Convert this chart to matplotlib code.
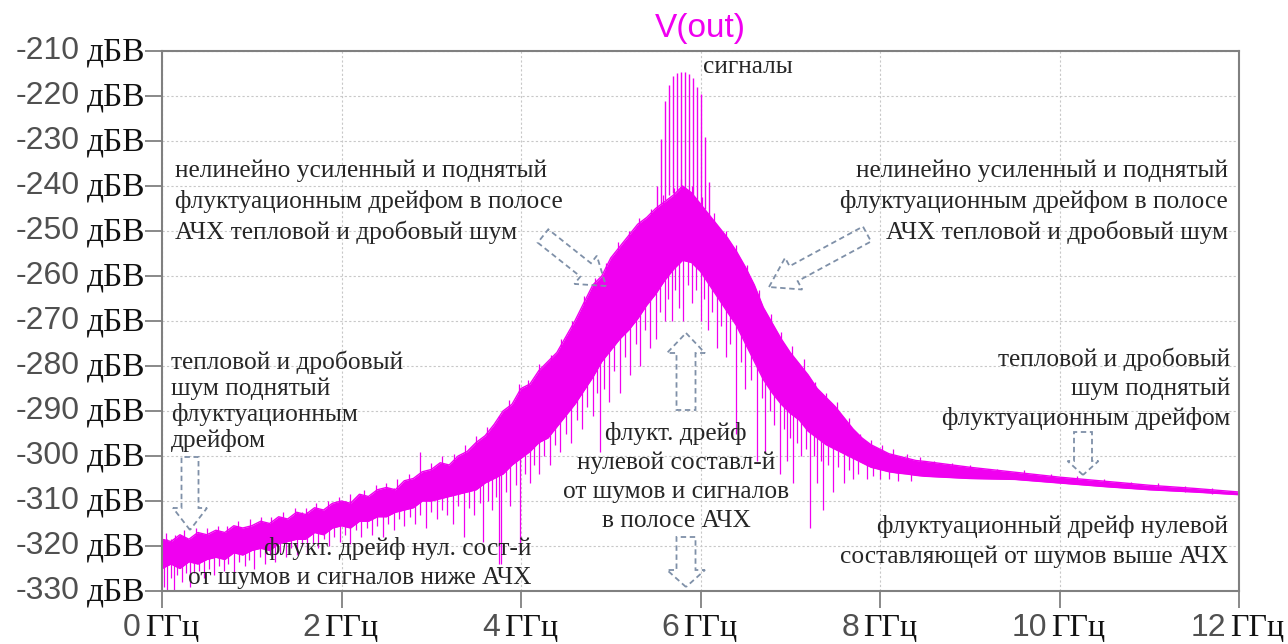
import matplotlib
matplotlib.use('Agg')
import matplotlib.pyplot as plt
from matplotlib.patches import FancyArrow
from matplotlib.transforms import IdentityTransform

# ---------------------------------------------
# spectrum V(out), values
# ---------------------------------------------

# dense noise band: upper / lower edge (dBV) vs frequency (GHz)
env_freq = [0.0, 0.1, 0.2, 0.3, 0.4, 0.5, 0.6, 0.7, 0.8, 0.9,
            1.0, 1.1, 1.2, 1.3, 1.4, 1.5, 1.6, 1.7, 1.8, 1.9,
            2.0, 2.1, 2.2, 2.3, 2.4, 2.5, 2.6, 2.7, 2.8, 2.9,
            3.0, 3.1, 3.2, 3.3, 3.4, 3.5, 3.6, 3.7, 3.8, 3.9,
            4.0, 4.1, 4.2, 4.3, 4.4, 4.5, 4.6, 4.7, 4.8, 4.9,
            5.0, 5.1, 5.2, 5.3, 5.4, 5.5, 5.6, 5.7, 5.8, 5.9,
            6.0, 6.1, 6.2, 6.3, 6.4, 6.5, 6.6, 6.7, 6.8, 6.9,
            7.0, 7.1, 7.2, 7.3, 7.4, 7.5, 7.6, 7.7, 7.8, 7.9,
            8.0, 8.1, 8.2, 8.3, 8.4, 8.5, 9.0, 9.5, 10.0, 10.5, 11.0, 11.5, 12.0]
env_upper = [-318.5, -319, -317.5, -318.5, -317, -317.5, -316.5, -317, -315.5, -316,
             -315.5, -314.5, -315, -313.5, -314, -312.5, -313, -311.5, -312, -310.5,
             -310, -310.5, -308.5, -309, -307.5, -307, -307.5, -305.5, -305, -303.5,
             -303, -301.5, -302, -300, -299, -297, -295.5, -293, -290, -288.5,
             -285, -284, -281, -279, -277, -273.5, -270, -266, -262, -260,
             -256, -253.5, -251, -248.5, -247, -245, -243.5, -242, -240, -241.5,
             -244, -246.5, -249, -251.5, -254.5, -258, -262, -267, -270.5, -274,
             -277, -279.5, -282, -285, -287, -289, -291.5, -294, -296, -297.5,
             -298.5, -299.5, -300, -300.5, -301, -301.2, -302.5, -303.6, -304.7, -305.6, -306.5, -307.2, -308]
env_lower = [-325, -324, -325, -323.5, -324, -323, -322.5, -323, -321.5, -322,
             -321, -320.5, -321, -319.5, -319, -318.5, -318.5, -317, -317.5, -316,
             -315.5, -316, -314.5, -314.5, -313.5, -313.5, -312.5, -312, -311.5, -310,
             -310, -309.5, -309, -308.5, -308, -307.5, -306, -305, -304, -302,
             -300.5, -299, -297, -296, -293.5, -291, -288.5, -285.5, -282.5, -279,
             -276.5, -274, -272, -269.5, -266.5, -264, -261, -258.5, -256.5, -257,
             -259, -262, -265, -268, -271, -275, -279, -283, -286, -288.5,
             -290.5, -292, -294.5, -296, -297.5, -298.5, -299.5, -300.5, -301.5, -302.5,
             -303, -303.5, -303.8, -304, -304.3, -304.5, -305, -305.2, -306, -306.8, -307.5, -308, -308.6]

# downward spikes below the band: frequency, lowest point, point inside the band
dip_freq = [0.02, 0.06, 0.1, 0.13, 0.17, 0.22, 0.27, 0.31, 0.36, 0.41, 0.47,
            0.52, 0.58, 0.63, 0.69, 0.74, 0.8, 0.86, 0.92, 0.97,
            1.03, 1.09, 1.15, 1.2, 1.26, 1.32, 1.38, 1.44,
            1.5, 1.56, 1.62, 1.68, 1.74, 1.8, 1.86, 1.92, 1.98,
            2.04, 2.1, 2.16, 2.22, 2.28, 2.34, 2.4, 2.46,
            2.52, 2.58, 2.64, 2.7, 2.76, 2.82, 2.88, 2.94,
            3.0, 3.06, 3.12, 3.18, 3.24, 3.3, 3.36, 3.42, 3.48,
            3.54, 3.58, 3.63, 3.68, 3.72, 3.75, 3.78, 3.83, 3.88, 3.94, 3.99,
            4.05, 4.1, 4.15, 4.2, 4.26, 4.32, 4.38, 4.44,
            4.5, 4.56, 4.62, 4.68, 4.74, 4.8, 4.85, 4.88, 4.93, 4.98,
            5.04, 5.1, 5.16, 5.22, 5.28, 5.33, 5.38, 5.44,
            5.5, 5.55, 5.6, 5.64, 5.68, 5.72, 5.76,
            5.81, 5.86, 5.9, 5.95,
            6.0, 6.04, 6.08, 6.13, 6.18, 6.23, 6.28, 6.33, 6.4, 6.45,
            6.5, 6.56, 6.63, 6.68, 6.72,
            6.77, 6.82, 6.89, 6.93, 6.96,
            7.0, 7.03, 7.07, 7.12, 7.17, 7.22, 7.26, 7.3, 7.34, 7.37, 7.42, 7.48,
            7.53, 7.6, 7.66, 7.7, 7.76, 7.85, 7.92,
            8.0, 8.1, 8.2, 8.35]
dip_low = [-329, -330, -327, -330, -326.5, -328, -326, -329, -326, -325.5, -327,
           -325, -326.5, -324.5, -325.5, -324, -326, -323.5, -324.5, -323,
           -325, -322.5, -324, -322, -323.5, -321.5, -322.5, -320.5,
           -322, -320, -321.5, -319.5, -320.5, -318.5, -320, -318, -319,
           -317.5, -319.5, -316.5, -318, -316, -317.5, -315.5, -318,
           -315, -316.5, -314, -315.5, -313.5, -315, -313, -316,
           -312.5, -314, -312, -313, -315, -311, -318, -311.5, -313,
           -310.5, -319, -310, -312, -309, -324, -324, -308, -311, -306.5, -321,
           -304, -306, -302, -304, -300, -302, -297.5, -299,
           -295, -297, -292, -294, -289, -291, -286, -299, -285, -288,
           -281, -286, -278, -282, -275, -280, -272, -276,
           -274, -268, -270, -265, -270, -263, -267,
           -270, -262, -266, -263,
           -270, -265, -272, -268, -276, -271, -278, -275, -295, -279,
           -285, -283, -301, -287, -299,
           -290, -293, -304, -294, -301,
           -296, -306, -297, -300, -298.5, -316, -300, -306, -301, -312, -302, -308,
           -302.5, -306, -303, -305, -304, -305, -304.5,
           -305, -305, -305.5, -305.5]
dip_top = [-318.5, -318.5, -318.5, -318.5, -318.5, -318.5, -318.5, -318.5, -318.5, -318.5, -318.5,
           -317.5, -317.5, -317.5, -317.5, -317.5, -317.5, -317.5, -317.5, -317.5,
           -315.5, -315.5, -315.5, -315.5, -315.5, -315.5, -315.5, -315.5,
           -312.5, -312.5, -312.5, -312.5, -312.5, -312.5, -312.5, -312.5, -312.5,
           -310, -310, -310, -310, -310, -310, -310, -310,
           -307, -307, -307, -307, -307, -307, -307, -307,
           -303, -303, -303, -303, -303, -303, -303, -303, -303,
           -297, -297, -297, -297, -297, -297, -297, -297, -297, -297, -297,
           -285, -285, -285, -285, -285, -285, -285, -285,
           -273.5, -273.5, -273.5, -273.5, -273.5, -273.5, -273.5, -273.5, -273.5, -273.5,
           -256, -256, -256, -256, -256, -256, -256, -256,
           -245, -245, -245, -245, -245, -245, -245,
           -244, -244, -244, -244,
           -258, -258, -258, -258, -258, -258, -258, -258, -258, -258,
           -268.5, -268.5, -268.5, -268.5, -268.5,
           -277, -277, -277, -277, -277,
           -289, -289, -289, -289, -289, -289, -289, -289, -289, -289, -289, -289,
           -298.5, -298.5, -298.5, -298.5, -298.5, -298.5, -298.5,
           -301.2, -301.2, -301.2, -301.2]

# short upward spikes above the band: frequency, tip, point inside the band
hair_freq = [0.04, 0.15, 0.25, 0.38, 0.5, 0.62, 0.72, 0.85, 0.98, 1.1, 1.22, 1.35, 1.48, 1.6,
             1.72, 1.85, 1.97, 2.1, 2.25, 2.38, 2.5, 2.62, 2.75, 2.88, 3.0, 3.12, 3.25, 3.38,
             3.5, 3.62, 3.75, 3.87, 3.98, 4.08, 4.2, 4.33, 4.45, 4.57, 4.7, 4.82, 4.95, 5.08,
             5.2, 5.32, 5.45, 5.58, 5.7, 5.78, 5.9, 6.02, 6.15, 6.28, 6.4, 6.52, 6.65, 6.78,
             6.9, 7.02, 7.15, 7.28, 7.4, 7.52, 7.65, 7.78, 7.9, 8.02, 8.15, 8.3, 8.45, 8.6,
             8.8, 9.0, 9.3, 9.6, 9.9, 10.2, 10.5, 10.8, 11.1, 11.4, 11.7]
hair_tip = [-317, -317.5, -316.5, -316, -316, -315.5, -315.5, -314.5, -314, -313.5, -313.5,
            -312.5, -311.5, -311.5, -310.5, -310, -309, -308.5, -307.5, -306.5, -306, -305,
            -304, -299, -301.5, -300, -299.5, -297.5, -295.5, -293.5, -291, -287.5, -284,
            -283, -279.5, -277.5, -274, -270, -264.5, -260.5, -257, -252.5, -250, -247, -245,
            -242, -240.5, -238.5, -240, -242.5, -246, -250, -253, -257.5, -263, -268.5,
            -272.5, -275.5, -278.5, -283.5, -286, -288, -291.5, -295, -296.5, -297.5, -298.5,
            -299.5, -300.2, -301, -301.5, -302, -302.8, -303.2, -304, -304.5, -305, -305.8,
            -306, -306.7, -307.2]
hair_base = [-320, -320, -320, -319, -319, -318.5, -318.5, -317.5, -317, -316.5, -316.5,
             -315.5, -314.5, -314.5, -313.5, -313, -312, -311.5, -310.5, -309.5, -309, -308.5,
             -307.5, -305, -305, -304, -303.5, -302, -300, -298, -296, -293, -289,
             -288, -285, -282, -279, -276, -272, -267, -262, -258, -255, -252, -250,
             -247, -245, -244, -245, -248, -251, -255, -258, -263, -268, -274,
             -278, -281, -284, -288, -290, -292, -295, -298, -299.5, -300.5, -301,
             -302, -302.5, -303, -303.5, -304, -304.5, -305, -305.5, -306, -306.5, -307,
             -307.5, -308, -308.5]

# signal comb on top of the band
sig_freq = [5.515, 5.56, 5.604, 5.649, 5.694, 5.738, 5.783, 5.827, 5.872, 5.917, 5.961, 6.006, 6.05, 6.095]
sig_level = [-240, -229.5, -221, -217.5, -215.5, -214.8, -214.7, -214.7, -215, -216, -218,
             -219.5, -229, -239]
sig_base = [-246, -244, -243, -242, -241.5, -241, -240.5, -240.5, -241, -242, -243, -244, -245, -247]

y_ticks = [-210, -220, -230, -240, -250, -260, -270, -280, -290, -300, -310, -320, -330]
x_ticks = [0, 2, 4, 6, 8, 10, 12]

#=========================#
# figure
#=========================#

W, H = 1288, 644
mag = '#f000f0'
grey = '#808080'
txt_col = '#262626'
arrow_col = '#7f90a8'
serif = 'Liberation Serif'
sans = 'Liberation Sans'

fig = plt.figure(figsize=(W / 100, H / 100), dpi=100)
ax = fig.add_axes([162 / W, 1 - 591 / H, 1077 / W, 540 / H])

ax.set_xlim(0, 12)
ax.set_ylim(-330, -210)
ax.set_xticks(x_ticks)
ax.set_yticks(y_ticks)
ax.set_xticklabels([])
ax.set_yticklabels([])
ax.tick_params(axis='both', direction='out', length=12, width=1.3, color=grey)
for s in ax.spines.values():
    s.set_color(grey)
    s.set_linewidth(1.5)
ax.grid(True, linestyle=(0, (2, 2)), color='#c8c8c8', linewidth=0.8)
ax.set_axisbelow(True)

# noise band, spikes and signals
ax.fill_between(env_freq, env_lower, env_upper, color=mag, linewidth=0)
ax.plot(env_freq, env_upper, color=mag, linewidth=1.0)
ax.plot(env_freq, env_lower, color=mag, linewidth=1.0)
ax.vlines(dip_freq, dip_low, dip_top, color=mag, linewidth=0.9)
ax.vlines(hair_freq, hair_base, hair_tip, color=mag, linewidth=0.9)
ax.vlines(sig_freq, sig_base, sig_level, color=mag, linewidth=1.0)

# tick labels: number in sans (grey), unit in serif (black)
for v in y_ticks:
    ax.annotate(str(v), xy=(0, v), xycoords=('axes fraction', 'data'),
                xytext=(-82, 0), textcoords='offset pixels', ha='right', va='center',
                fontsize=23, family=sans, color='#505050')
    ax.annotate('дБВ', xy=(0, v), xycoords=('axes fraction', 'data'),
                xytext=(-75, -1), textcoords='offset pixels', ha='left', va='center',
                fontsize=24, family=serif, color='#111111')

for v in x_ticks:
    n = len(str(v))
    wn, wu, gap = 17 * n, 55, 4
    left = -(wn + gap + wu) / 2
    ax.annotate(str(v), xy=(v, 0), xycoords=('data', 'axes fraction'),
                xytext=(left + wn, -37), textcoords='offset pixels', ha='right', va='center',
                fontsize=23, family=sans, color='#505050')
    ax.annotate('ГГц', xy=(v, 0), xycoords=('data', 'axes fraction'),
                xytext=(left + wn + gap, -38), textcoords='offset pixels', ha='left', va='center',
                fontsize=23, family=serif, color='#111111')

fig.text(700 / W, 1 - 28 / H, 'V(out)', ha='center', va='center', fontsize=24,
         family=sans, color=mag)


def px(x, y):
    return x / W, 1 - y / H


fs = 18.3
ls = 1.4
t_upper = 'нелинейно усиленный и поднятый\nфлуктуационным дрейфом в полосе\nАЧХ тепловой и дробовый шум'
fig.text(*px(175, 160), t_upper, ha='left', va='top', fontsize=fs, family=serif,
         color=txt_col, linespacing=ls)
fig.text(*px(1228, 160), t_upper, ha='right', va='top', fontsize=fs, family=serif,
         color=txt_col, linespacing=ls, multialignment='right')
fig.text(*px(703, 56), 'сигналы', ha='left', va='top', fontsize=fs, family=serif, color=txt_col)
fig.text(*px(171, 351), 'тепловой и дробовый\nшум поднятый\nфлуктуационным\nдрейфом',
         ha='left', va='top', fontsize=fs, family=serif, color=txt_col, linespacing=1.17)
fig.text(*px(531, 537), 'флукт. дрейф нул. сост-й\nот шумов и сигналов ниже АЧХ',
         ha='right', va='top', fontsize=fs, family=serif, color=txt_col, linespacing=ls,
         multialignment='right')
fig.text(*px(676, 422), 'флукт. дрейф\nнулевой составл-й\nот шумов и сигналов\nв полосе АЧХ',
         ha='center', va='top', fontsize=fs, family=serif, color=txt_col, linespacing=ls,
         multialignment='center')
fig.text(*px(1230, 347), 'тепловой и дробовый\nшум поднятый\nфлуктуационным дрейфом',
         ha='right', va='top', fontsize=fs, family=serif, color=txt_col, linespacing=ls,
         multialignment='right')
fig.text(*px(1228, 515), 'флуктуационный дрейф нулевой\nсоставляющей от шумов выше АЧХ',
         ha='right', va='top', fontsize=fs, family=serif, color=txt_col, linespacing=ls,
         multialignment='right')

# dashed hollow arrows (pixel coordinates, y from top)
arrows = [
    # tail x, tail y, tip x, tip y, shaft width, head width, head length
    (190, 457, 190, 530, 17, 34, 22),
    (543, 236, 606, 286, 17, 36, 26),
    (867, 234, 769, 287, 17, 36, 28),
    (686, 410, 686, 333, 19, 38, 20),
    (686, 537, 686, 587, 19, 38, 17),
    (1083, 432, 1083, 475, 18, 31, 14),
]
for x0, y0, x1, y1, w, hw, hl in arrows:
    a = FancyArrow(x0, H - y0, x1 - x0, -(y1 - y0), width=w, head_width=hw, head_length=hl,
                   length_includes_head=True, transform=IdentityTransform(),
                   facecolor='none', edgecolor=arrow_col, linewidth=1.3,
                   linestyle=(0, (3, 2)), clip_on=False)
    fig.add_artist(a)

fig.savefig('out.png', dpi=100)
